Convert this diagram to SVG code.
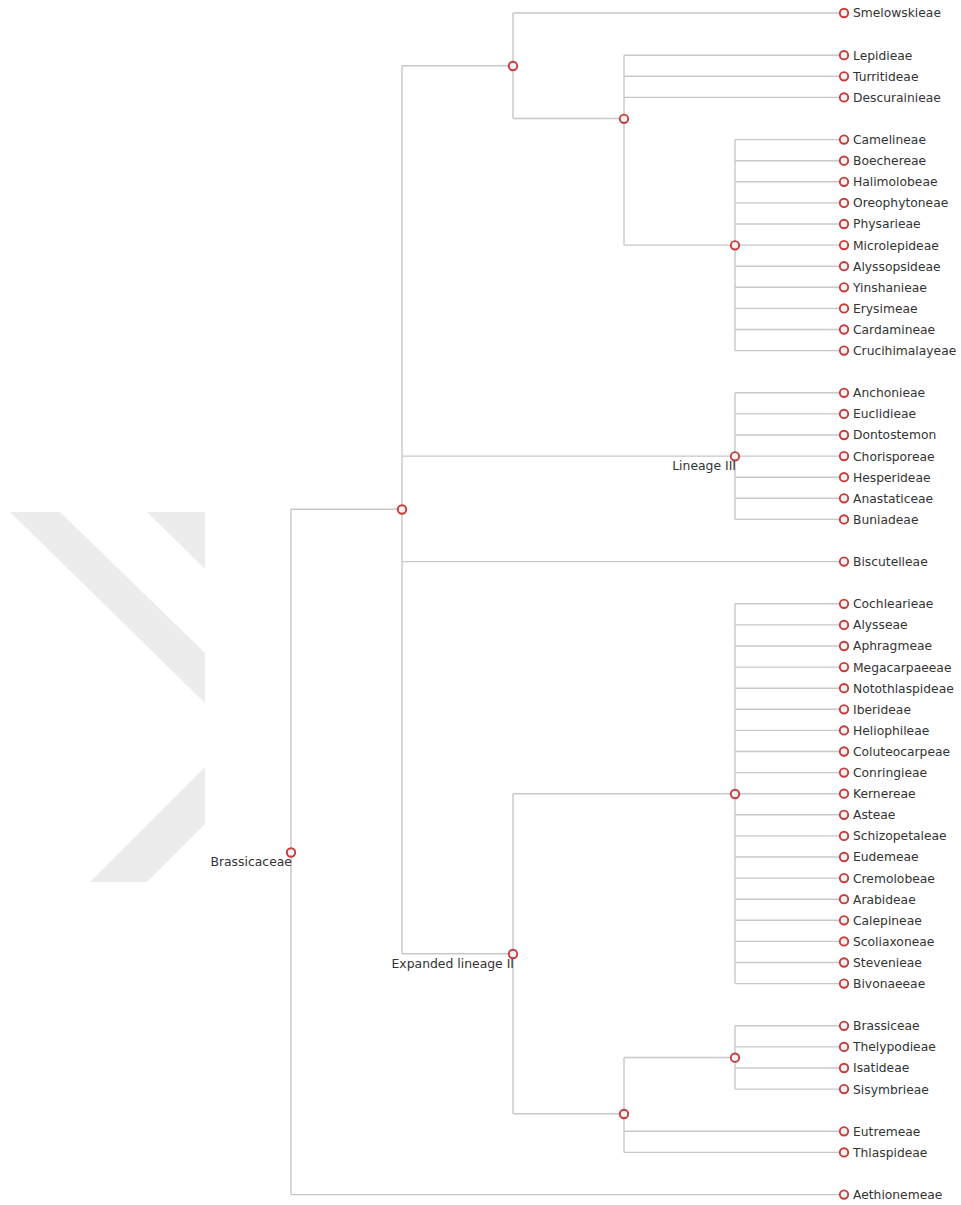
<svg xmlns="http://www.w3.org/2000/svg" width="961" height="1205" viewBox="0 0 961 1205">
<style>
.e{fill:none;stroke:#c8c8c8;stroke-width:1.4}
.n{fill:#f2f2f2;stroke:#c93a3a;stroke-width:1.9}
.t{font-family:"DejaVu Sans",sans-serif;font-size:12.3px;fill:#333}
.il{font-family:"DejaVu Sans",sans-serif;font-size:12.4px;fill:#333;text-anchor:end}
.wm{fill:#ececec}
</style>
<rect width="961" height="1205" fill="#fff"/>
<g id="watermark">
<polygon class="wm" points="10,512 60,512 205,653 205,703"/>
<polygon class="wm" points="147,512 205,512 205,569"/>
<polygon class="wm" points="205,767 205,824 147,882 90,882"/>
</g>
<g id="connectors">
<path class="e" d="M291 509.3V1194.6M291 509.3H402M291 1194.6H844"/>
<path class="e" d="M402 65.75V953.7M402 65.75H513M402 456.1H735M402 561.6H844M402 953.7H513"/>
<path class="e" d="M513 13V118.5M513 13H844M513 118.5H624"/>
<path class="e" d="M624 55.2V245.1M624 55.2H844M624 76.3H844M624 97.4H844M624 245.1H735"/>
<path class="e" d="M735 139.6V350.6M735 139.6H844M735 160.7H844M735 181.8H844M735 202.9H844M735 224H844M735 245.1H844M735 266.2H844M735 287.3H844M735 308.4H844M735 329.5H844M735 350.6H844"/>
<path class="e" d="M735 392.8V519.4M735 392.8H844M735 413.9H844M735 435H844M735 456.1H844M735 477.2H844M735 498.3H844M735 519.4H844"/>
<path class="e" d="M513 793.7V1113.7M513 793.7H735M513 1113.7H624"/>
<path class="e" d="M735 603.8V983.6M735 603.8H844M735 624.9H844M735 646H844M735 667.1H844M735 688.2H844M735 709.3H844M735 730.4H844M735 751.5H844M735 772.6H844M735 793.7H844M735 814.8H844M735 835.9H844M735 857H844M735 878.1H844M735 899.2H844M735 920.3H844M735 941.4H844M735 962.5H844M735 983.6H844"/>
<path class="e" d="M624 1057.45V1152.4M624 1057.45H735M624 1131.3H844M624 1152.4H844"/>
<path class="e" d="M735 1025.8V1089.1M735 1025.8H844M735 1046.9H844M735 1068H844M735 1089.1H844"/>
</g>
<g id="inner-nodes">
<g id="n-brassicaceae"><circle class="n" cx="291" cy="852.5" r="4.2"/><text class="il" x="292" y="866">Brassicaceae</text></g>
<g id="n-a"><circle class="n" cx="402" cy="509.5" r="4.2"/></g>
<g id="n-b"><circle class="n" cx="513" cy="66" r="4.2"/></g>
<g id="n-c"><circle class="n" cx="624" cy="118.8" r="4.2"/></g>
<g id="n-d"><circle class="n" cx="735" cy="245.3" r="4.2"/></g>
<g id="n-lineage3"><circle class="n" cx="735" cy="456.3" r="4.2"/><text class="il" x="736" y="470">Lineage III</text></g>
<g id="n-expanded2"><circle class="n" cx="513" cy="954" r="4.2"/><text class="il" x="514" y="968">Expanded lineage II</text></g>
<g id="n-e"><circle class="n" cx="735" cy="794" r="4.2"/></g>
<g id="n-f"><circle class="n" cx="624" cy="1114" r="4.2"/></g>
<g id="n-g"><circle class="n" cx="735" cy="1057.7" r="4.2"/></g>
</g>
<g id="leaves">
<g id="l0"><circle class="n" cx="844" cy="13" r="4.2"/><text class="t" x="853" y="17.4">Smelowskieae</text></g>
<g id="l2"><circle class="n" cx="844" cy="55.2" r="4.2"/><text class="t" x="853" y="59.6">Lepidieae</text></g>
<g id="l3"><circle class="n" cx="844" cy="76.3" r="4.2"/><text class="t" x="853" y="80.7">Turritideae</text></g>
<g id="l4"><circle class="n" cx="844" cy="97.4" r="4.2"/><text class="t" x="853" y="101.8">Descurainieae</text></g>
<g id="l6"><circle class="n" cx="844" cy="139.6" r="4.2"/><text class="t" x="853" y="144">Camelineae</text></g>
<g id="l7"><circle class="n" cx="844" cy="160.7" r="4.2"/><text class="t" x="853" y="165.1">Boechereae</text></g>
<g id="l8"><circle class="n" cx="844" cy="181.8" r="4.2"/><text class="t" x="853" y="186.2">Halimolobeae</text></g>
<g id="l9"><circle class="n" cx="844" cy="202.9" r="4.2"/><text class="t" x="853" y="207.3">Oreophytoneae</text></g>
<g id="l10"><circle class="n" cx="844" cy="224" r="4.2"/><text class="t" x="853" y="228.4">Physarieae</text></g>
<g id="l11"><circle class="n" cx="844" cy="245.1" r="4.2"/><text class="t" x="853" y="249.5">Microlepideae</text></g>
<g id="l12"><circle class="n" cx="844" cy="266.2" r="4.2"/><text class="t" x="853" y="270.6">Alyssopsideae</text></g>
<g id="l13"><circle class="n" cx="844" cy="287.3" r="4.2"/><text class="t" x="853" y="291.7">Yinshanieae</text></g>
<g id="l14"><circle class="n" cx="844" cy="308.4" r="4.2"/><text class="t" x="853" y="312.8">Erysimeae</text></g>
<g id="l15"><circle class="n" cx="844" cy="329.5" r="4.2"/><text class="t" x="853" y="333.9">Cardamineae</text></g>
<g id="l16"><circle class="n" cx="844" cy="350.6" r="4.2"/><text class="t" x="853" y="355">Crucihimalayeae</text></g>
<g id="l18"><circle class="n" cx="844" cy="392.8" r="4.2"/><text class="t" x="853" y="397.2">Anchonieae</text></g>
<g id="l19"><circle class="n" cx="844" cy="413.9" r="4.2"/><text class="t" x="853" y="418.3">Euclidieae</text></g>
<g id="l20"><circle class="n" cx="844" cy="435" r="4.2"/><text class="t" x="853" y="439.4">Dontostemon</text></g>
<g id="l21"><circle class="n" cx="844" cy="456.1" r="4.2"/><text class="t" x="853" y="460.5">Chorisporeae</text></g>
<g id="l22"><circle class="n" cx="844" cy="477.2" r="4.2"/><text class="t" x="853" y="481.6">Hesperideae</text></g>
<g id="l23"><circle class="n" cx="844" cy="498.3" r="4.2"/><text class="t" x="853" y="502.7">Anastaticeae</text></g>
<g id="l24"><circle class="n" cx="844" cy="519.4" r="4.2"/><text class="t" x="853" y="523.8">Buniadeae</text></g>
<g id="l26"><circle class="n" cx="844" cy="561.6" r="4.2"/><text class="t" x="853" y="566">Biscutelleae</text></g>
<g id="l28"><circle class="n" cx="844" cy="603.8" r="4.2"/><text class="t" x="853" y="608.2">Cochlearieae</text></g>
<g id="l29"><circle class="n" cx="844" cy="624.9" r="4.2"/><text class="t" x="853" y="629.3">Alysseae</text></g>
<g id="l30"><circle class="n" cx="844" cy="646" r="4.2"/><text class="t" x="853" y="650.4">Aphragmeae</text></g>
<g id="l31"><circle class="n" cx="844" cy="667.1" r="4.2"/><text class="t" x="853" y="671.5">Megacarpaeeae</text></g>
<g id="l32"><circle class="n" cx="844" cy="688.2" r="4.2"/><text class="t" x="853" y="692.6">Notothlaspideae</text></g>
<g id="l33"><circle class="n" cx="844" cy="709.3" r="4.2"/><text class="t" x="853" y="713.7">Iberideae</text></g>
<g id="l34"><circle class="n" cx="844" cy="730.4" r="4.2"/><text class="t" x="853" y="734.8">Heliophileae</text></g>
<g id="l35"><circle class="n" cx="844" cy="751.5" r="4.2"/><text class="t" x="853" y="755.9">Coluteocarpeae</text></g>
<g id="l36"><circle class="n" cx="844" cy="772.6" r="4.2"/><text class="t" x="853" y="777">Conringieae</text></g>
<g id="l37"><circle class="n" cx="844" cy="793.7" r="4.2"/><text class="t" x="853" y="798.1">Kernereae</text></g>
<g id="l38"><circle class="n" cx="844" cy="814.8" r="4.2"/><text class="t" x="853" y="819.2">Asteae</text></g>
<g id="l39"><circle class="n" cx="844" cy="835.9" r="4.2"/><text class="t" x="853" y="840.3">Schizopetaleae</text></g>
<g id="l40"><circle class="n" cx="844" cy="857" r="4.2"/><text class="t" x="853" y="861.4">Eudemeae</text></g>
<g id="l41"><circle class="n" cx="844" cy="878.1" r="4.2"/><text class="t" x="853" y="882.5">Cremolobeae</text></g>
<g id="l42"><circle class="n" cx="844" cy="899.2" r="4.2"/><text class="t" x="853" y="903.6">Arabideae</text></g>
<g id="l43"><circle class="n" cx="844" cy="920.3" r="4.2"/><text class="t" x="853" y="924.7">Calepineae</text></g>
<g id="l44"><circle class="n" cx="844" cy="941.4" r="4.2"/><text class="t" x="853" y="945.8">Scoliaxoneae</text></g>
<g id="l45"><circle class="n" cx="844" cy="962.5" r="4.2"/><text class="t" x="853" y="966.9">Stevenieae</text></g>
<g id="l46"><circle class="n" cx="844" cy="983.6" r="4.2"/><text class="t" x="853" y="988">Bivonaeeae</text></g>
<g id="l48"><circle class="n" cx="844" cy="1025.8" r="4.2"/><text class="t" x="853" y="1030.2">Brassiceae</text></g>
<g id="l49"><circle class="n" cx="844" cy="1046.9" r="4.2"/><text class="t" x="853" y="1051.3">Thelypodieae</text></g>
<g id="l50"><circle class="n" cx="844" cy="1068" r="4.2"/><text class="t" x="853" y="1072.4">Isatideae</text></g>
<g id="l51"><circle class="n" cx="844" cy="1089.1" r="4.2"/><text class="t" x="853" y="1093.5">Sisymbrieae</text></g>
<g id="l53"><circle class="n" cx="844" cy="1131.3" r="4.2"/><text class="t" x="853" y="1135.7">Eutremeae</text></g>
<g id="l54"><circle class="n" cx="844" cy="1152.4" r="4.2"/><text class="t" x="853" y="1156.8">Thlaspideae</text></g>
<g id="l56"><circle class="n" cx="844" cy="1194.6" r="4.2"/><text class="t" x="853" y="1199">Aethionemeae</text></g>
</g>
</svg>
